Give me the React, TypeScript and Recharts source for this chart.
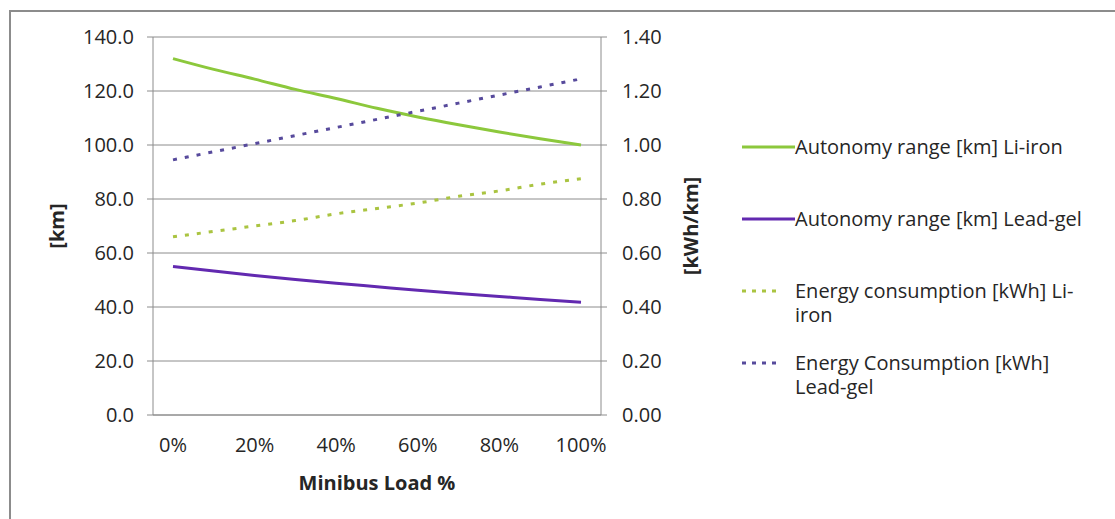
import { LineChart, Line, XAxis, YAxis, CartesianGrid, Legend } from 'recharts';

const loadLabels = ['0%', '10%', '20%', '30%', '40%', '50%', '60%', '70%', '80%', '90%', '100%'];
const rangeLiIron = [132, 128, 124.4, 120.6, 117.2, 113.6, 110.4, 107.5, 104.8, 102.3, 100];
const rangeLeadGel = [55, 53.3, 51.7, 50.2, 48.8, 47.5, 46.2, 45.0, 43.9, 42.8, 41.8];
const energyLiIron = [0.66, 0.68, 0.7, 0.72, 0.745, 0.765, 0.785, 0.81, 0.83, 0.855, 0.875];
const energyLeadGel = [0.945, 0.975, 1.005, 1.035, 1.065, 1.095, 1.125, 1.155, 1.185, 1.215, 1.245];
const kmTicks = [0, 20, 40, 60, 80, 100, 120, 140];
const kwhTicks = [0, 0.2, 0.4, 0.6, 0.8, 1.0, 1.2, 1.4];

const series = [
  { key: 'rangeLi', name: 'Autonomy range [km] Li-iron', axis: 'km', color: '#8cc83c', dotted: false },
  { key: 'rangeLead', name: 'Autonomy range [km] Lead-gel', axis: 'km', color: '#6229b0', dotted: false },
  { key: 'energyLi', name: 'Energy consumption [kWh] Li-iron', axis: 'kwh', color: '#aac441', dotted: true },
  { key: 'energyLead', name: 'Energy Consumption [kWh] Lead-gel', axis: 'kwh', color: '#574a9c', dotted: true },
];

const data = loadLabels.map((load, i) => ({
  load,
  rangeLi: rangeLiIron[i],
  rangeLead: rangeLeadGel[i],
  energyLi: energyLiIron[i],
  energyLead: energyLeadGel[i],
}));

const FONT = '"Open Sans", sans-serif';
const FS = 20;
const GRID = '#8c8c8c';
const TEXT = '#262626';

function ChartLegend() {
  return (
    <div style={{ fontFamily: FONT, fontSize: FS, color: TEXT, lineHeight: '24px' }}>
      {series.map((s) => (
        <div key={s.key} style={{ display: 'flex', height: 72, alignItems: 'flex-start' }}>
          <svg width={53} height={24} style={{ flex: 'none' }}>
            <line
              x1={0}
              x2={s.dotted ? 38 : 53}
              y1={12}
              y2={12}
              stroke={s.color}
              strokeWidth={3}
              strokeDasharray={s.dotted ? '4 6' : undefined}
            />
          </svg>
          <span style={{ width: 295 }}>{s.name}</span>
        </div>
      ))}
    </div>
  );
}

function axisTitle(text: string, x: number, y: number, rotate: boolean) {
  return () => (
    <text
      x={x}
      y={y}
      transform={rotate ? `rotate(-90 ${x} ${y})` : undefined}
      textAnchor="middle"
      dominantBaseline={rotate ? 'central' : undefined}
      fill={TEXT}
      fontFamily={FONT}
      fontSize={FS}
      fontWeight="bold"
    >
      {text}
    </text>
  );
}

export default function App() {
  return (
    <div style={{ position: 'absolute', left: 0, top: 0, width: 1115, height: 519, background: '#fff' }}>
      <div
        style={{
          position: 'absolute',
          left: 9,
          top: 10,
          width: 1106,
          height: 509,
          borderTop: `2px solid ${GRID}`,
          borderLeft: `2px solid ${GRID}`,
          boxSizing: 'border-box',
        }}
      />
      <LineChart width={1115} height={519} data={data} margin={{ top: 37, right: 414, left: 0, bottom: 24 }}>
        <CartesianGrid yAxisId="km" vertical={false} stroke={GRID} />
        <XAxis
          dataKey="load"
          interval={1}
          padding={{ left: 20, right: 20 }}
          height={80}
          tickLine={false}
          tickSize={0}
          tickMargin={23}
          axisLine={{ stroke: GRID }}
          tick={{ fill: TEXT, fontSize: FS, fontFamily: FONT }}
          label={axisTitle('Minibus Load %', 377, 490, false)}
        />
        <YAxis
          yAxisId="km"
          domain={[0, 140]}
          ticks={kmTicks}
          tickFormatter={(v: number) => v.toFixed(1)}
          width={153}
          tickSize={6}
          tickMargin={13}
          axisLine={{ stroke: GRID }}
          tickLine={{ stroke: GRID }}
          tick={{ fill: TEXT, fontSize: FS, fontFamily: FONT }}
          label={axisTitle('[km]', 56, 226, true)}
        />
        <YAxis
          yAxisId="kwh"
          orientation="right"
          domain={[0, 1.4]}
          ticks={kwhTicks}
          tickFormatter={(v: number) => v.toFixed(2)}
          width={100}
          tickSize={6}
          tickMargin={15}
          axisLine={{ stroke: GRID }}
          tickLine={{ stroke: GRID }}
          tick={{ fill: TEXT, fontSize: FS, fontFamily: FONT }}
          label={axisTitle('[kWh/km]', 690, 226, true)}
        />
        {series.map((s) => (
          <Line
            key={s.key}
            yAxisId={s.axis}
            dataKey={s.key}
            name={s.name}
            type="monotone"
            stroke={s.color}
            strokeWidth={3}
            strokeDasharray={s.dotted ? '4 8' : undefined}
            dot={false}
            activeDot={false}
            isAnimationActive={false}
          />
        ))}
        <Legend
          layout="vertical"
          align="center"
          verticalAlign="middle"
          wrapperStyle={{ left: 742, top: 135, width: 370 }}
          content={() => <ChartLegend />}
        />
      </LineChart>
    </div>
  );
}
